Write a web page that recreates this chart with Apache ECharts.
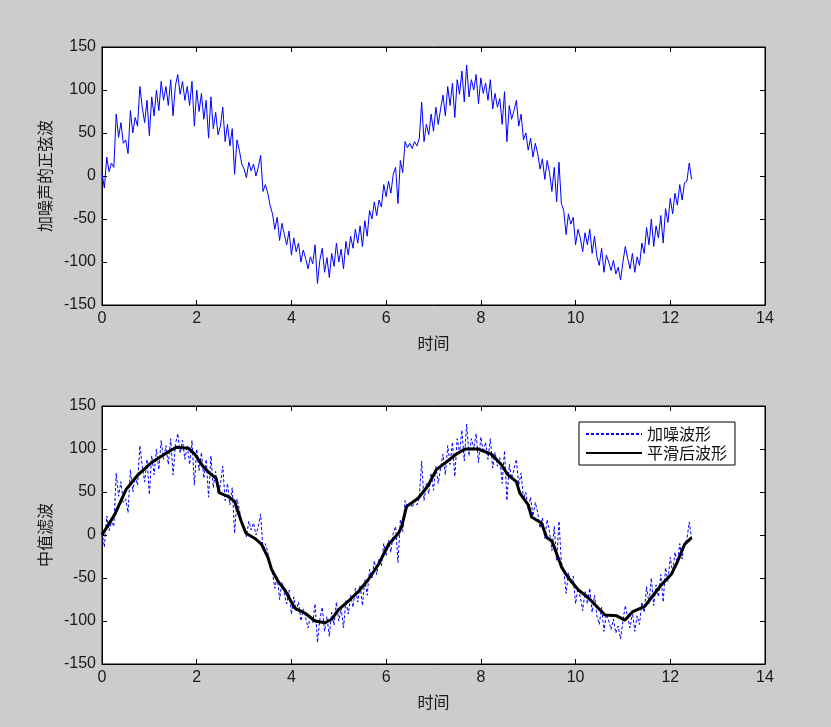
<!DOCTYPE html>
<html>
<head>
<meta charset="utf-8">
<script src="https://cdn.jsdelivr.net/npm/echarts@6/dist/echarts.min.js"></script>
<style>
  html, body { margin: 0; padding: 0; background: #cccccc; }
  #main { width: 831px; height: 727px; }
</style>
</head>
<body>
<div id="main"></div>
<script>
// noisy sine, sampled every 0.05 s starting at t = 0
const dt = 0.05;
const noisy = [
  3, -14, 22, 5, 15, 10, 72, 45, 62, 38,
  42, 26, 76, 50, 68, 58, 104, 80, 62, 88,
  47, 92, 70, 100, 76, 110, 88, 104, 82, 112,
  70, 105, 118, 95, 110, 88, 104, 82, 110, 58,
  100, 75, 96, 66, 88, 44, 92, 55, 74, 48,
  58, 80, 40, 60, 35, 55, 2, 42, 30, 14,
  8, -2, 16, 6, 14, 0, 10, 24, -18, -10,
  -20, -34, -44, -62, -48, -75, -55, -68, -80, -64,
  -92, -72, -88, -78, -100, -86, -96, -108, -94, -102,
  -80, -125, -98, -84, -112, -95, -118, -90, -105, -78,
  -100, -85, -108, -76, -92, -70, -84, -62, -78, -58,
  -82, -52, -70, -40, -50, -30, -46, -28, -36, -10,
  -24, -6, -20, 2, 10, -32, 18, 4, 40, 33,
  38, 32, 40, 35, 44, 86, 40, 60, 48, 72,
  52, 80, 60, 78, 94, 70, 104, 82, 108, 68,
  112, 95, 122, 86, 129, 92, 112, 100, 118, 84,
  114, 96, 108, 88, 112, 78, 96, 80, 90, 60,
  98, 40, 82, 66, 76, 88, 58, 72, 42, 50,
  30, 44, 22, 38, 26, 8, 20, -4, 18, 4,
  -18, 10, -30, 16, -32, -40, -68, -44, -56, -48,
  -80, -62, -72, -88, -66, -80, -62, -90, -70, -94,
  -104, -84, -112, -92, -100, -110, -98, -114, -106, -121,
  -100, -82, -96, -108, -90, -112, -94, -104, -78, -90,
  -60, -80, -50, -82, -58, -72, -46, -78, -38, -54,
  -26, -44, -20, -34, -10, -28, -8, -6, 15, -4
];

// median filtered curve
const smoothT = [0, 0.27, 0.51, 0.76, 1.04, 1.32, 1.57, 1.82, 1.96, 2.13, 2.27, 2.41, 2.48, 2.66, 2.8, 2.94,
  3.04, 3.23, 3.37, 3.51, 3.58, 3.72, 3.86, 4.07, 4.29, 4.5, 4.71, 4.85, 4.99, 5.2, 5.41, 5.62, 5.84,
  6.05, 6.26, 6.33, 6.43, 6.68, 6.88, 7.06, 7.3, 7.48, 7.66, 7.94, 8.22, 8.43, 8.57, 8.75, 8.82, 9.0,
  9.07, 9.28, 9.39, 9.5, 9.71, 9.85, 10.06, 10.27, 10.62, 10.87, 11.04, 11.21, 11.46, 11.6, 11.81,
  12.02, 12.16, 12.3, 12.45];
const smoothY = [0, 24, 53, 70, 84, 94, 102, 101, 94, 80, 72, 66, 49, 45, 39, 16,
  2, -4, -11, -27, -40, -54, -64, -85, -91, -100, -102, -98, -87, -77, -66, -52, -34,
  -11, 2, 10, 33, 43, 57, 76, 86, 94, 100, 100, 94, 82, 70, 62, 49, 35,
  21, 14, -3, -7, -38, -50, -64, -73, -93, -94, -99, -89, -83, -73, -58,
  -46, -30, -11, -3];

const xTicks = [0, 14, 2];     // min, max, step
const yTicks = [-150, 150, 50];

const noisyPts = noisy.map((v, i) => [+(i * dt).toFixed(2), v]);
const smoothPts = smoothT.map((t, i) => [t, smoothY[i]]);

const font = 'Liberation Sans, Noto Sans CJK SC, sans-serif';
const txt = { color: '#1a1a1a', fontSize: 16, fontFamily: font };

function xAx(grid, pos, name) {
  return {
    type: 'value', gridIndex: grid, position: pos,
    min: xTicks[0], max: xTicks[1], interval: xTicks[2],
    axisLine: { onZero: false, lineStyle: { color: '#000', width: 1 } },
    axisTick: { inside: true, length: 5, lineStyle: { color: '#000' } },
    axisLabel: { show: pos === 'bottom', margin: 6, ...txt },
    splitLine: { show: false },
    name: name || '', nameLocation: 'middle', nameGap: 30,
    nameTextStyle: { ...txt, fontFamily: 'Noto Sans CJK SC' }
  };
}
function yAx(grid, pos, name) {
  return {
    type: 'value', gridIndex: grid, position: pos,
    min: yTicks[0], max: yTicks[1], interval: yTicks[2],
    axisLine: { onZero: false, lineStyle: { color: '#000', width: 1 } },
    axisTick: { inside: true, length: 5, lineStyle: { color: '#000' } },
    axisLabel: { show: pos === 'left', margin: 6, ...txt },
    splitLine: { show: false },
    name: name || '', nameLocation: 'middle', nameGap: 47, nameRotate: 90,
    nameTextStyle: { ...txt, fontFamily: 'Noto Sans CJK SC' }
  };
}

const chart = echarts.init(document.getElementById('main'));
chart.setOption({
  backgroundColor: '#cccccc',
  animation: false,
  grid: [
    { left: 102, top: 47, width: 663, height: 258, show: true, backgroundColor: '#fff', borderColor: '#000', borderWidth: 1 },
    { left: 102, top: 406, width: 663, height: 258, show: true, backgroundColor: '#fff', borderColor: '#000', borderWidth: 1 }
  ],
  xAxis: [xAx(0, 'bottom', '时间'), xAx(0, 'top'), xAx(1, 'bottom', '时间'), xAx(1, 'top')],
  yAxis: [yAx(0, 'left', '加噪声的正弦波'), yAx(0, 'right'), yAx(1, 'left', '中值滤波'), yAx(1, 'right')],
  legend: {
    data: ['加噪波形', '平滑后波形'],
    orient: 'vertical',
    left: 579, top: 422,
    backgroundColor: '#fff',
    borderColor: '#000', borderWidth: 1, borderRadius: 0,
    padding: [4, 8, 4, 6],
    itemGap: 3, itemWidth: 56, itemHeight: 14,
    itemStyle: { opacity: 0 },
    textStyle: { color: '#111', fontSize: 16, fontFamily: 'Noto Sans CJK SC' }
  },
  series: [
    {
      name: '加噪声的正弦波', type: 'line', xAxisIndex: 0, yAxisIndex: 0,
      data: noisyPts, showSymbol: false, symbol: 'none',
      lineStyle: { color: '#0000ff', width: 1 }
    },
    {
      name: '加噪波形', type: 'line', xAxisIndex: 2, yAxisIndex: 2,
      data: noisyPts, showSymbol: false, symbol: 'none',
      itemStyle: { color: '#0000ff' },
      lineStyle: { color: '#0000ff', width: 1, type: [3, 2] }
    },
    {
      name: '平滑后波形', type: 'line', xAxisIndex: 2, yAxisIndex: 2,
      data: smoothPts, showSymbol: false, symbol: 'none',
      itemStyle: { color: '#000' },
      lineStyle: { color: '#000', width: 3 }
    }
  ]
});
</script>
</body>
</html>
